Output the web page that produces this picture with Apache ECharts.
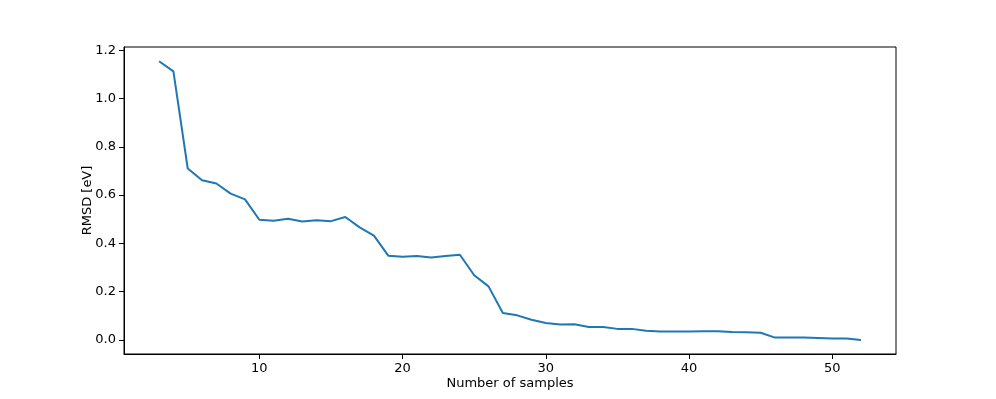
<!DOCTYPE html>
<html>
<head>
<meta charset="utf-8">
<script src="https://cdn.jsdelivr.net/npm/echarts@6/dist/echarts.min.js"></script>
<style>html,body{margin:0;padding:0;background:#fff}#c{width:996px;height:399px}</style>
</head>
<body>
<div id="c"></div>
<script>
const samples = [3,4,5,6,7,8,9,10,11,12,13,14,15,16,17,18,19,20,21,22,23,24,25,26,27,28,29,30,31,32,33,34,35,36,37,38,39,40,41,42,43,44,45,46,47,48,49,50,51,52];
const rmsd = [1.154,1.112,0.710,0.661,0.648,0.606,0.582,0.498,0.494,0.502,0.491,0.496,0.492,0.509,0.466,0.432,0.349,0.345,0.348,0.342,0.348,0.353,0.268,0.222,0.112,0.102,0.084,0.070,0.064,0.065,0.054,0.054,0.046,0.046,0.038,0.035,0.035,0.035,0.036,0.036,0.033,0.032,0.030,0.010,0.010,0.010,0.008,0.006,0.006,0.000];
const xTicks = [10,20,30,40,50];
const yTicks = [0,0.2,0.4,0.6,0.8,1.0,1.2];

const font = 'DejaVu Sans';
const chart = echarts.init(document.getElementById('c'), null, {renderer:'canvas'});
chart.setOption({
  animation: false,
  grid: {left:124, right:100, top:47, bottom:45, show:true, borderColor:'#000', borderWidth:1, backgroundColor:'transparent'},
  xAxis: {
    type:'value', min:0.55, max:54.45,
    name:'Number of samples', nameLocation:'middle', nameGap:23, nameMoveOverlap:false,
    nameTextStyle:{fontFamily:font, fontSize:13, color:'#000'},
    axisLine:{show:true, onZero:false, lineStyle:{color:'#000', width:1}},
    axisTick:{show:true, inside:false, length:5, customValues:xTicks, lineStyle:{color:'#000'}},
    axisLabel:{customValues:xTicks, margin:8, fontFamily:font, fontSize:13, color:'#000', formatter:v=>String(v)},
    splitLine:{show:false}
  },
  yAxis: {
    type:'value', min:-0.058, max:1.213,
    name:'RMSD [eV]', nameLocation:'middle', nameGap:30, nameMoveOverlap:false,
    nameTextStyle:{fontFamily:font, fontSize:13, color:'#000'},
    axisLine:{show:true, onZero:false, lineStyle:{color:'#000', width:1}},
    axisTick:{show:true, inside:false, length:5, customValues:yTicks, lineStyle:{color:'#000'}},
    axisLabel:{customValues:yTicks, margin:8, fontFamily:font, fontSize:13, color:'#000', formatter:v=>v.toFixed(1)},
    splitLine:{show:false}
  },
  series: [{
    type:'line',
    data: samples.map((s,i)=>[s, rmsd[i]]),
    symbol:'none',
    lineStyle:{color:'#1f77b4', width:2},
    clip:true
  }]
});
</script>
</body>
</html>
